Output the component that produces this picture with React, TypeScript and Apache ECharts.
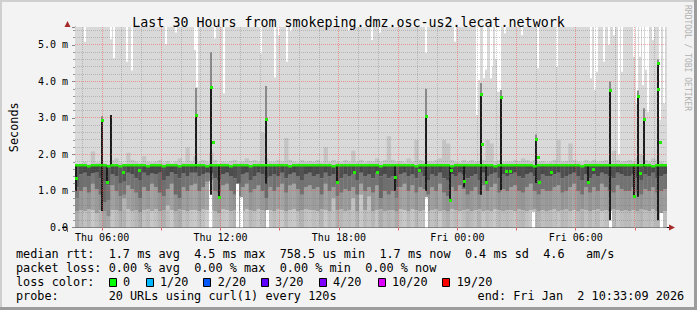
import React, { useEffect, useRef } from "react";
import * as echarts from "echarts";

// time axis in hours since Thu 00:00
const START = 4.625;
const END = 34.625;
const STEP = 0.2; // 12-minute smoke columns
const Y_MAX = 5.493;

const xTickHours = [6, 12, 18, 24, 30];
const xTickLabels = ["Thu 06:00", "Thu 12:00", "Thu 18:00", "Fri 00:00", "Fri 06:00"];

// median rtt per column (ms)
const median = [
  1.70, 1.71, 1.70, 1.69, 1.70, 1.71, 1.70, 1.70, 1.69, 1.70,
  1.70, 1.69, 1.71, 1.70, 1.71, 1.70, 1.70, 1.70, 1.69, 1.71,
  1.70, 1.71, 1.69, 1.70, 1.70, 1.71, 1.69, 1.70, 1.70, 1.71,
  1.70, 1.70, 1.71, 1.69, 1.70, 1.70, 1.70, 1.70, 1.71, 1.69,
  1.70, 1.71, 1.70, 1.70, 1.69, 1.70, 1.71, 1.70, 1.70, 1.70,
  1.70, 1.70, 1.71, 1.70, 1.69, 1.70, 1.70, 1.71, 1.70, 1.70,
  1.70, 1.71, 1.70, 1.70, 1.70, 1.69, 1.70, 1.70, 1.71, 1.70,
  1.71, 1.70, 1.70, 1.70, 1.70, 1.71, 1.70, 1.69, 1.70, 1.70,
  1.70, 1.70, 1.71, 1.70, 1.70, 1.70, 1.69, 1.70, 1.71, 1.70,
  1.71, 1.70, 1.70, 1.70, 1.70, 1.69, 1.70, 1.70, 1.71, 1.70,
  1.70, 1.70, 1.71, 1.70, 1.70, 1.70, 1.69, 1.70, 1.70, 1.71,
  1.70, 1.70, 1.70, 1.71, 1.70, 1.70, 1.69, 1.70, 1.70, 1.70,
  1.70, 1.71, 1.70, 1.70, 1.70, 1.70, 1.71, 1.70, 1.69, 1.70,
  1.70, 1.70, 1.70, 1.71, 1.70, 1.70, 1.70, 1.70, 1.71, 1.70,
  1.70, 1.71, 1.70, 1.70, 1.70, 1.70, 1.69, 1.70, 1.70, 1.70,
];

// smoke band edges per column (ms): lightest band top, mid band top, dark-mid band top
const smokeA0 = [
  0.45, 0.48, 0.45, 0.50, 0.48, 0.40, 0.48, 0.45, 0.30, 0.48,
  0.48, 0.45, 0.80, 0.50, 0.45, 0.48, 0.42, 0.48, 0.50, 0.45,
  0.50, 0.45, 0.48, 0.60, 0.48, 0.45, 0.50, 0.48, 0.45, 0.48,
  0.48, 0.45, 0.50, 0.48, 0.48, 0.45, 0.40, 0.50, 0.48, 0.45,
  0.48, 0.45, 0.45, 0.50, 0.48, 0.45, 0.50, 0.48, 0.45, 0.48,
  0.45, 0.50, 0.48, 0.45, 0.48, 0.50, 0.45, 0.48, 0.50, 0.48,
  0.48, 0.45, 0.50, 0.48, 0.45, 0.80, 0.48, 0.50, 0.45, 0.48,
  0.80, 0.45, 0.90, 0.48, 0.85, 0.45, 0.48, 0.50, 0.45, 0.48,
  0.48, 0.45, 0.50, 0.48, 0.45, 0.50, 0.48, 0.45, 0.48, 0.45,
  0.48, 0.50, 0.45, 0.48, 0.45, 0.50, 0.48, 0.45, 0.48, 0.50,
  0.45, 0.48, 0.50, 0.45, 0.48, 0.45, 0.50, 0.48, 0.45, 0.48,
  0.48, 0.45, 0.50, 0.48, 0.45, 0.48, 0.50, 0.45, 0.48, 0.45,
  0.48, 0.50, 0.45, 0.48, 0.50, 0.45, 0.48, 0.45, 0.50, 0.48,
  0.45, 0.48, 0.50, 0.45, 0.48, 0.45, 0.50, 0.48, 0.45, 0.48,
  0.45, 0.48, 0.45, 0.50, 0.48, 0.45, 0.50, 0.45, 0.40, 0.45,
];
const smokeA1 = [
  0.80, 1.00, 1.10, 0.95, 1.20, 1.05, 0.90, 0.70, 0.75, 1.15,
  1.00, 0.85, 0.90, 1.15, 1.05, 0.95, 0.80, 1.10, 1.00, 1.20,
  1.10, 0.95, 0.85, 1.05, 1.20, 0.90, 0.80, 1.10, 1.00, 1.15,
  1.20, 1.00, 1.10, 1.25, 1.30, 1.00, 0.95, 1.15, 1.20, 1.00,
  0.90, 0.85, 1.10, 1.20, 0.95, 1.05, 1.15, 1.00, 0.80, 1.10,
  1.00, 1.10, 1.20, 0.95, 1.15, 1.20, 1.05, 0.90, 1.10, 1.15,
  1.05, 1.10, 0.90, 1.20, 1.00, 1.10, 0.85, 0.95, 1.05, 1.00,
  1.10, 0.90, 1.20, 1.00, 1.10, 0.95, 1.15, 0.80, 1.00, 0.90,
  1.00, 0.80, 1.10, 1.20, 1.00, 1.15, 0.95, 1.10, 1.05, 0.90,
  1.10, 1.00, 1.20, 0.95, 0.85, 1.10, 1.00, 1.15, 1.05, 0.90,
  1.00, 1.10, 0.90, 1.15, 1.00, 1.10, 1.20, 0.95, 1.05, 1.00,
  1.10, 1.15, 1.00, 0.95, 1.10, 1.20, 1.00, 0.90, 1.05, 1.00,
  1.00, 1.10, 1.15, 0.95, 1.00, 1.10, 1.20, 1.00, 0.90, 1.10,
  0.95, 1.10, 1.00, 1.20, 1.10, 1.00, 0.95, 1.15, 1.05, 1.00,
  1.00, 1.10, 0.95, 0.90, 1.05, 1.00, 1.10, 0.95, 1.00, 1.05,
];
const smokeA2 = [
  1.10, 1.45, 1.50, 1.40, 1.48, 1.52, 1.35, 1.25, 1.15, 1.45,
  1.40, 1.20, 1.25, 1.50, 1.45, 1.35, 1.30, 1.50, 1.42, 1.48,
  1.45, 1.50, 1.30, 1.40, 1.52, 1.45, 1.35, 1.48, 1.40, 1.50,
  1.50, 1.40, 1.45, 1.50, 1.48, 1.35, 1.30, 1.45, 1.50, 1.40,
  1.35, 1.20, 1.45, 1.50, 1.30, 1.40, 1.50, 1.45, 1.35, 1.40,
  1.45, 1.40, 1.50, 1.35, 1.45, 1.50, 1.40, 1.30, 1.45, 1.50,
  1.40, 1.45, 1.35, 1.50, 1.40, 1.45, 1.20, 1.35, 1.45, 1.40,
  1.45, 1.30, 1.50, 1.40, 1.45, 1.35, 1.50, 1.40, 1.45, 1.35,
  1.40, 1.10, 1.45, 1.50, 1.40, 1.45, 1.35, 1.50, 1.40, 1.30,
  1.45, 1.40, 1.50, 1.35, 1.30, 1.45, 1.40, 1.50, 1.45, 1.35,
  1.40, 1.45, 1.30, 1.50, 1.40, 1.45, 1.50, 1.35, 1.45, 1.40,
  1.45, 1.50, 1.40, 1.35, 1.45, 1.50, 1.40, 1.30, 1.45, 1.40,
  1.40, 1.45, 1.50, 1.35, 1.40, 1.45, 1.50, 1.40, 1.30, 1.45,
  1.35, 1.45, 1.40, 1.50, 1.45, 1.40, 1.35, 1.50, 1.45, 1.40,
  1.40, 1.45, 1.35, 1.30, 1.45, 1.40, 1.50, 1.35, 1.40, 1.45,
];
// top of the light smoke above the median (ms)
const smokeUp = [
  1.72, 1.75, 1.80, 1.74, 2.08, 1.78, 1.80, 1.76, 1.74, 1.85,
  1.90, 1.78, 1.75, 2.05, 1.85, 1.80, 1.76, 1.95, 1.80, 1.78,
  1.80, 1.85, 1.78, 1.82, 1.76, 1.80, 1.90, 1.78, 2.20, 1.80,
  1.95, 1.80, 1.85, 1.80, 2.05, 1.85, 1.75, 1.80, 1.78, 1.82,
  1.85, 1.78, 1.80, 1.90, 1.82, 1.85, 1.80, 2.60, 1.90, 1.80,
  1.80, 1.85, 1.80, 2.45, 1.85, 1.80, 1.78, 1.85, 1.80, 1.82,
  1.80, 1.85, 1.78, 2.20, 1.80, 1.85, 1.80, 1.78, 1.85, 1.80,
  2.10, 1.80, 1.85, 1.78, 1.82, 1.80, 1.90, 1.80, 1.85, 2.50,
  1.85, 1.80, 1.82, 1.78, 1.90, 1.80, 2.40, 1.85, 1.80, 1.82,
  1.80, 1.85, 1.90, 2.40, 2.30, 1.85, 1.80, 1.78, 1.85, 1.80,
  1.85, 1.80, 1.82, 1.85, 2.40, 2.30, 1.80, 1.85, 1.78, 1.80,
  1.80, 1.85, 1.82, 1.90, 1.85, 1.80, 1.85, 1.80, 1.82, 1.78,
  1.80, 1.85, 2.40, 1.80, 1.82, 2.30, 1.85, 1.80, 1.78, 1.85,
  1.80, 1.85, 1.80, 1.82, 1.85, 1.80, 2.10, 1.85, 1.80, 1.82,
  1.85, 1.80, 1.90, 2.00, 1.85, 1.80, 1.90, 1.85, 1.80, 1.75,
];

// spikes: [hour, bottom ms, dark top ms, faint top ms]
const spikes = [
  [4.70, 1.00, 1.70, 1.70], [5.97, 0.45, 2.97, 3.05], [6.27, 1.25, 1.70, 1.70],
  [6.445, 1.70, 3.08, 3.08], [10.77, 1.65, 3.08, 3.82], [11.495, 0.90, 3.85, 4.80],
  [11.92, 0.84, 1.70, 1.70], [14.32, 1.20, 2.97, 3.88], [17.92, 1.25, 1.70, 1.70],
  [20.855, 1.00, 1.70, 1.70], [22.435, 1.00, 3.05, 3.80], [23.605, 0.75, 1.70, 1.70],
  [24.355, 1.10, 1.70, 1.70], [25.185, 0.90, 3.65, 3.96], [25.47, 1.25, 1.70, 1.70],
  [26.235, 1.03, 3.58, 3.77], [27.995, 1.22, 2.42, 2.55], [30.635, 1.25, 1.70, 1.70],
  [31.735, 0.20, 3.77, 4.00], [32.97, 0.86, 1.70, 1.70], [33.155, 0.84, 3.60, 3.75],
  [33.445, 1.66, 2.96, 3.27], [34.145, 0.20, 4.52, 4.60],
];

// additional median readings (green marks): [hour, ms]
const medianExtra = [
  [4.70, 1.36], [5.97, 2.95], [6.27, 1.25], [7.07, 1.53], [7.86, 1.58], [10.77, 3.08],
  [11.495, 3.85], [11.605, 2.35], [11.92, 0.84], [14.32, 2.97], [17.92, 1.25],
  [18.77, 1.53], [19.935, 1.53], [20.855, 1.37], [22.07, 1.58], [22.435, 3.05],
  [23.605, 0.75], [23.685, 1.58], [24.355, 1.28], [25.185, 3.65], [25.27, 2.30],
  [25.47, 1.25], [26.235, 3.58], [26.47, 1.56], [26.69, 1.56], [27.995, 2.42],
  [28.07, 1.94], [28.13, 1.25], [28.77, 1.53], [30.635, 1.25], [30.855, 1.60],
  [31.735, 3.77], [32.97, 0.86], [33.155, 3.60], [33.265, 1.50], [33.445, 2.96],
  [34.145, 4.52], [34.145, 3.79], [34.27, 2.35],
];

// white gaps reaching down from the top: [hour, lowest ms]
const whiteTop = [
  [5.155, 5.09], [6.47, 5.16], [6.595, 4.64], [7.27, 4.54], [7.52, 4.30], [9.245, 5.02],
  [9.735, 5.34], [10.695, 4.86], [10.80, 3.85], [11.73, 5.18], [12.185, 3.68], [14.07, 4.77],
  [14.735, 4.11], [14.985, 5.27], [15.385, 4.54], [15.57, 5.38], [18.52, 5.39], [19.685, 5.14],
  [20.07, 5.34], [22.435, 4.79], [23.87, 5.09], [24.99, 3.08], [25.10, 4.04], [25.355, 4.09],
  [25.47, 4.33], [25.685, 4.09], [25.77, 4.42], [25.935, 4.60], [26.07, 3.72], [26.17, 3.72],
  [26.435, 5.32], [27.27, 5.27], [28.105, 4.36], [29.07, 4.40], [30.77, 4.09], [30.985, 3.77],
  [31.10, 4.27], [31.435, 4.54], [31.685, 5.00], [31.935, 5.27], [32.185, 2.00], [32.355, 4.27],
  [32.935, 4.68], [33.105, 3.40], [33.27, 4.68], [33.405, 3.90], [33.57, 4.32], [33.685, 3.17],
  [33.935, 5.14], [34.27, 2.95], [34.47, 3.40],
];

// white gaps from the bottom: [hour, highest ms]
const whiteBottom = [
  [11.445, 1.25], [12.845, 1.20], [13.045, 0.83], [14.37, 0.48], [22.42, 0.83],
  [27.845, 0.43], [31.745, 0.46], [34.32, 0.40],
];

const legendRtt = "median rtt:  1.7 ms avg  4.5 ms max  758.5 us min  1.7 ms now  0.4 ms sd  4.6   am/s";
const legendLoss = "packet loss: 0.00 % avg  0.00 % max  0.00 % min  0.00 % now";
const legendColorTitle = "loss color:";
const lossLevels = ["0", "1/20", "2/20", "3/20", "4/20", "10/20", "19/20"];
const lossColors = ["#00ff00", "#00b8ff", "#0059ff", "#5e00ff", "#7e00ff", "#dd00ff", "#ff0000"];
const legendProbe = "probe:       20 URLs using curl(1) every 120s";
const legendEnd = "end: Fri Jan  2 10:33:09 2026";
const chartTitle = "Last 30 Hours from smokeping.dmz.osc-us2.lecat.network";

const MONO = '"DejaVu Sans Mono", monospace';
const CW = 7.125;

function lineTokens(line: string, x0: number, y: number) {
  const out: any[] = [];
  const re = /\S+/g;
  let m: any;
  while ((m = re.exec(line))) {
    out.push({
      type: "text",
      x: x0 + m.index * CW,
      y,
      z: 10,
      style: { text: m[0], fill: "#000", fontFamily: MONO, fontSize: 11.84, verticalAlign: "middle", align: "left" },
    });
  }
  return out;
}

function gray(level: number) {
  const v = Math.max(0, Math.min(255, Math.round(level)));
  return `rgb(${v},${v},${v})`;
}

export default function App() {
  const ref = useRef<HTMLDivElement>(null);
  useEffect(() => {
    if (!ref.current) return;
    const chart = echarts.init(ref.current, null, { renderer: "svg" });

    const smokeData = median.map((m, i) => [
      START + STEP * (i + 0.5), smokeA0[i], smokeA1[i], smokeA2[i], m, smokeUp[i],
    ]);
    const medData = median.map((m, i) => [START + STEP * (i + 0.5), m]);

    const legendGraphics: any[] = [
      ...lineTokens(legendRtt, 16, 254.3),
      ...lineTokens(legendLoss, 16, 267.7),
      ...lineTokens(legendColorTitle, 16, 282.3),
      ...lineTokens(legendProbe, 16, 295.7),
      ...lineTokens(legendEnd, 477.6, 295.7),
    ];
    const boxX = [109, 145.7, 203, 260.7, 319, 377.7, 442];
    const boxLabelX = [123, 160, 217.7, 275, 333, 392, 456.7];
    lossLevels.forEach((lab, i) => {
      legendGraphics.push({
        type: "rect", z: 10,
        shape: { x: Math.round(boxX[i]) + 0.5, y: 278.5, width: 7, height: 8 },
        style: { fill: lossColors[i], stroke: "#000", lineWidth: 1 },
      });
      legendGraphics.push({
        type: "text", x: boxLabelX[i], y: 282.3, z: 10,
        style: { text: lab, fill: "#000", fontFamily: MONO, fontSize: 11.84, verticalAlign: "middle" },
      });
    });

    const option: any = {
      animation: false,
      backgroundColor: "#f3f3f3",
      title: {
        text: chartTitle,
        left: "center",
        top: 11,
        textStyle: { fontFamily: MONO, fontSize: 13.3, fontWeight: "normal", color: "#000" },
      },
      grid: { left: 67, right: 30, top: 27, bottom: 82.5, show: false },
      xAxis: {
        type: "value", min: START, max: END,
        axisLine: { show: true, lineStyle: { color: "#000", width: 1 } },
        axisTick: {
          show: true, customValues: [6, 9, 12, 15, 18, 21, 24, 27, 30, 33], length: 3,
          lineStyle: { color: "#e06060" },
        },
        axisLabel: {
          customValues: xTickHours,
          formatter: (v: number) => {
            const i = xTickHours.indexOf(Math.round(v));
            return i >= 0 ? xTickLabels[i] : "";
          },
          fontFamily: MONO, fontSize: 10, color: "#000", margin: 5,
        },
        splitLine: { show: false },
      },
      yAxis: {
        type: "value", min: 0, max: Y_MAX, interval: 1,
        name: "Seconds", nameLocation: "middle", nameGap: 55, nameRotate: 90,
        nameTextStyle: { fontFamily: MONO, fontSize: 11.84, color: "#000" },
        axisLine: { show: true, lineStyle: { color: "#666", width: 1 } },
        axisTick: { show: true, length: 3, lineStyle: { color: "#888" } },
        minorTick: { show: true, splitNumber: 5, length: 2, lineStyle: { color: "#999" } },
        axisLabel: {
          formatter: (v: number) => (v === 0 ? "0.0" : v.toFixed(1) + " m"),
          fontFamily: MONO, fontSize: 10, color: "#000", margin: 7, showMaxLabel: false,
        },
        splitLine: { show: false },
      },
      series: [
        {
          type: "custom", name: "plot-background", z: 1, silent: true,
          data: [[(START + END) / 2, 1]],
          renderItem: (params: any) => {
            const cs = params.coordSys;
            return { type: "rect", shape: { x: cs.x, y: cs.y, width: cs.width, height: cs.height }, style: { fill: "#d9d9d9" } };
          },
        },
        {
          type: "custom", name: "smoke", z: 2, clip: true,
          data: smokeData,
          renderItem: (params: any, api: any) => {
            const h = api.value(0);
            const xL = api.coord([h - STEP / 2, 0])[0];
            const xR = api.coord([h + STEP / 2, 0])[0];
            const a0 = api.value(1), a1 = api.value(2), a2 = api.value(3), m = api.value(4), up = api.value(5);
            const vals = [0, a0, a1, a2, m, up];
            // shade each band by how spread the pings are in this column
            const t1 = a1 - 1.0;
            const t2 = a2 - 1.4;
            const colors = [
              gray(186 + t1 * 70),
              gray(152 + t1 * 55),
              gray(114 - (a2 - a1 - 0.4) * 60),
              gray(76 - t2 * 60),
              gray(196),
            ];
            const children: any[] = [];
            for (let k = 0; k < 5; k++) {
              const yb = api.coord([h, vals[k]])[1];
              const yt = api.coord([h, vals[k + 1]])[1];
              if (yb - yt > 0.05) {
                children.push({
                  type: "rect",
                  shape: { x: xL, y: yt, width: xR - xL + 0.3, height: yb - yt },
                  style: { fill: colors[k] },
                });
              }
            }
            return { type: "group", children };
          },
        },
        {
          type: "custom", name: "white-bottom", z: 2, clip: true,
          data: whiteBottom,
          renderItem: (params: any, api: any) => {
            const p0 = api.coord([api.value(0), 0]);
            const p1 = api.coord([api.value(0), api.value(1)]);
            return { type: "rect", shape: { x: Math.round(p0[0]) - 1, y: p1[1], width: 3, height: p0[1] - p1[1] }, style: { fill: "#ffffff" } };
          },
        },
        {
          type: "custom", name: "white-top", z: 2, clip: true,
          data: whiteTop,
          renderItem: (params: any, api: any) => {
            const p0 = api.coord([api.value(0), Y_MAX]);
            const p1 = api.coord([api.value(0), api.value(1)]);
            return { type: "rect", shape: { x: Math.round(p0[0]) - 1, y: p0[1], width: 2, height: p1[1] - p0[1] }, style: { fill: "#ffffff" } };
          },
        },
        {
          type: "custom", name: "spikes", z: 3, clip: true,
          data: spikes,
          renderItem: (params: any, api: any) => {
            const h = api.value(0);
            const pb = api.coord([h, api.value(1)]);
            const pt = api.coord([h, api.value(2)]);
            const pg = api.coord([h, api.value(3)]);
            const x = Math.round(pb[0]) - 1;
            const children: any[] = [];
            if (pt[1] - pg[1] > 0.05) {
              children.push({ type: "rect", shape: { x, y: pg[1], width: 2, height: pt[1] - pg[1] }, style: { fill: "#8a8a8a" } });
            }
            children.push({ type: "rect", shape: { x, y: pt[1], width: 2, height: pb[1] - pt[1] }, style: { fill: "#1c1c1c" } });
            return { type: "group", children };
          },
        },
        {
          type: "custom", name: "grid-lines", z: 5, silent: true,
          data: [[(START + END) / 2, 1]],
          renderItem: (params: any, api: any) => {
            const cs = params.coordSys;
            const children: any[] = [];
            const red = "rgba(255,60,60,0.45)";
            const gr = "rgba(110,110,110,0.33)";
            for (let hh = Math.ceil(START); hh <= END; hh++) {
              const x = Math.floor(api.coord([hh, 0])[0]) + 0.5;
              children.push({
                type: "line",
                shape: { x1: x, y1: cs.y, x2: x, y2: cs.y + cs.height },
                style: { stroke: hh % 3 === 0 ? red : gr, lineWidth: 1, lineDash: [1, 1] },
              });
            }
            for (let k = 1; k <= 27; k++) {
              const y = Math.floor(api.coord([START, k / 5])[1]) + 0.5;
              children.push({
                type: "line",
                shape: { x1: cs.x, y1: y, x2: cs.x + cs.width, y2: y },
                style: { stroke: k % 5 === 0 ? red : gr, lineWidth: 1, lineDash: [1, 1] },
              });
            }
            return { type: "group", children };
          },
        },
        {
          type: "custom", name: "median", z: 6, clip: true,
          data: medData,
          renderItem: (params: any, api: any) => {
            const h = api.value(0);
            const xL = api.coord([h - STEP / 2, 0])[0];
            const xR = api.coord([h + STEP / 2, 0])[0];
            const y = Math.round(api.coord([h, api.value(1)])[1]);
            return { type: "rect", shape: { x: xL, y: y - 1, width: xR - xL, height: 2.5 }, style: { fill: "#22ee00" } };
          },
        },
        {
          type: "custom", name: "median-extra", z: 6, clip: true,
          data: medianExtra,
          renderItem: (params: any, api: any) => {
            const p = api.coord([api.value(0), api.value(1)]);
            return { type: "rect", shape: { x: Math.round(p[0]) - 1, y: Math.round(p[1]) - 1, width: 3, height: 3 }, style: { fill: "#22ee00" } };
          },
        },
      ],
      graphic: [
        // frame
        { type: "line", z: 10, shape: { x1: 0, y1: 1, x2: 697, y2: 1 }, style: { stroke: "#cfcfcf", lineWidth: 2 } },
        { type: "line", z: 10, shape: { x1: 1, y1: 0, x2: 1, y2: 310 }, style: { stroke: "#cfcfcf", lineWidth: 2 } },
        { type: "line", z: 10, shape: { x1: 0, y1: 308.5, x2: 697, y2: 308.5 }, style: { stroke: "#9c9c9c", lineWidth: 3 } },
        { type: "line", z: 10, shape: { x1: 695.5, y1: 0, x2: 695.5, y2: 310 }, style: { stroke: "#9c9c9c", lineWidth: 3 } },
        // axis overhangs and arrows
        { type: "line", z: 10, shape: { x1: 62, y1: 227.5, x2: 67, y2: 227.5 }, style: { stroke: "#000", lineWidth: 1 } },
        { type: "line", z: 10, shape: { x1: 667, y1: 227.5, x2: 670, y2: 227.5 }, style: { stroke: "#000", lineWidth: 1 } },
        { type: "line", z: 10, shape: { x1: 67.5, y1: 227.5, x2: 67.5, y2: 232 }, style: { stroke: "#666", lineWidth: 1 } },
        { type: "line", z: 10, shape: { x1: 67.5, y1: 27, x2: 67.5, y2: 23 }, style: { stroke: "#666", lineWidth: 1 } },
        { type: "polygon", z: 11, shape: { points: [[669, 224.5], [675, 227.5], [669, 230.5]] }, style: { fill: "#a52a2a" } },
        { type: "polygon", z: 11, shape: { points: [[64.5, 27], [67.5, 21], [70.5, 27]] }, style: { fill: "#a52a2a" } },
        // vertical credit
        {
          type: "text", z: 10, x: 687, y: 5, rotation: -Math.PI / 2,
          style: { text: "RRDTOOL / TOBI OETIKER", fill: "#b0b0b0", fontFamily: MONO, fontSize: 8, align: "left", verticalAlign: "middle" },
        },
        ...legendGraphics,
      ],
    };
    chart.setOption(option);
    return () => chart.dispose();
  }, []);
  return <div ref={ref} style={{ position: "absolute", left: 0, top: 0, width: 697, height: 310 }} />;
}
